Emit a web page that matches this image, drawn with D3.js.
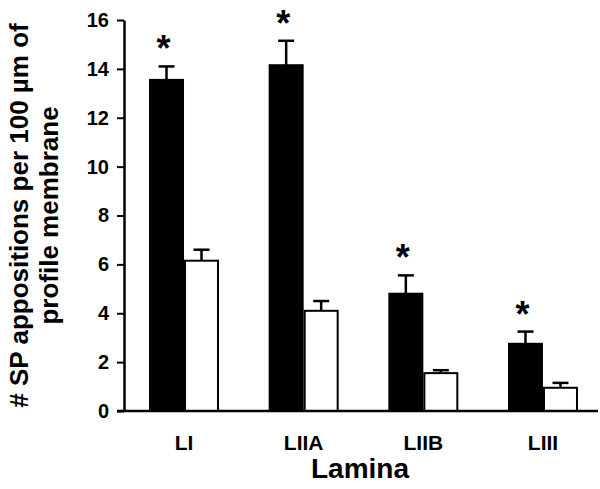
<!DOCTYPE html>
<html>
<head>
<meta charset="utf-8">
<script src="https://cdn.jsdelivr.net/npm/d3@7"></script>
<style>
  body { margin: 0; background: #fff; }
  text { font-family: "Liberation Sans", Arial, Helvetica, sans-serif; font-weight: bold; fill: #000; }
</style>
</head>
<body>
<div id="chart"></div>
<script>
const laminae = ["LI", "LIIA", "LIIB", "LIII"];
const groups = ["filled", "open"];
const filledMeans = [13.55, 14.15, 4.8, 2.75];
const filledErrors = [0.55, 1.0, 0.75, 0.5];
const openMeans = [6.15, 4.1, 1.55, 0.95];
const openErrors = [0.45, 0.4, 0.12, 0.2];
const significant = [true, true, true, true];
const yTicks = [0, 2, 4, 6, 8, 10, 12, 14, 16];

const width = 600, height = 489;
const margin = { top: 20, right: 0, bottom: 78, left: 124 };

const svg = d3.select("#chart")
    .append("svg")
    .attr("width", width)
    .attr("height", height);

const data = laminae.map((l, i) => ({
    lamina: l,
    values: [
        { key: "filled", mean: filledMeans[i], err: filledErrors[i] },
        { key: "open", mean: openMeans[i], err: openErrors[i] }
    ],
    star: significant[i]
}));

const x0 = d3.scaleBand()
    .domain(laminae)
    .range([margin.left, 603])
    .paddingInner(0.415)
    .paddingOuter(0.209);

const x1 = d3.scaleBand()
    .domain(groups)
    .range([0, x0.bandwidth()]);

const y = d3.scaleLinear()
    .domain([0, 16])
    .range([height - margin.bottom, margin.top]);

const fill = d3.scaleOrdinal().domain(groups).range(["#000", "#fff"]);

// bars
const g = svg.selectAll(".group")
    .data(data)
    .enter().append("g")
    .attr("transform", d => `translate(${x0(d.lamina)},0)`);

g.selectAll("rect")
    .data(d => d.values)
    .enter().append("rect")
    .attr("x", d => x1(d.key) + 1)
    .attr("y", d => y(d.mean))
    .attr("width", x1.bandwidth() - 2)
    .attr("height", d => y(0) - y(d.mean))
    .attr("fill", d => fill(d.key))
    .attr("stroke", "#000")
    .attr("stroke-width", 2);

// error bars (upper only)
const eb = g.selectAll(".err")
    .data(d => d.values)
    .enter().append("g");

eb.append("line")
    .attr("x1", d => x1(d.key) + x1.bandwidth() / 2)
    .attr("x2", d => x1(d.key) + x1.bandwidth() / 2)
    .attr("y1", d => y(d.mean))
    .attr("y2", d => y(d.mean + d.err))
    .attr("stroke", "#000")
    .attr("stroke-width", 2.5);

eb.append("line")
    .attr("x1", d => x1(d.key) + x1.bandwidth() / 2 - 8)
    .attr("x2", d => x1(d.key) + x1.bandwidth() / 2 + 8)
    .attr("y1", d => y(d.mean + d.err))
    .attr("y2", d => y(d.mean + d.err))
    .attr("stroke", "#000")
    .attr("stroke-width", 2.5);

// asterisks
g.filter(d => d.star)
    .append("text")
    .attr("x", x1("filled") + x1.bandwidth() / 2 - 3)
    .attr("y", d => y(d.values[0].mean + d.values[0].err) - 5)
    .attr("text-anchor", "middle")
    .style("font-size", "36px")
    .text("*");

// y axis
const yAxis = svg.append("g")
    .attr("transform", `translate(${margin.left},0)`)
    .call(d3.axisLeft(y).tickValues(yTicks).tickSize(7).tickSizeOuter(0).tickPadding(8));

yAxis.select(".domain").attr("stroke-width", 2.5);
yAxis.selectAll(".tick line").attr("stroke-width", 2);
yAxis.selectAll(".tick text")
    .style("font-size", "20px")
    .style("font-family", "'Liberation Sans', Arial, sans-serif")
    .style("font-weight", "bold");

// x axis line
svg.append("line")
    .attr("x1", margin.left - 7)
    .attr("x2", 598)
    .attr("y1", y(0))
    .attr("y2", y(0))
    .attr("stroke", "#000")
    .attr("stroke-width", 2.5);

// category labels
svg.selectAll(".cat")
    .data(laminae)
    .enter().append("text")
    .attr("x", d => x0(d) + x0.bandwidth() / 2)
    .attr("y", 450)
    .attr("text-anchor", "middle")
    .style("font-size", "21px")
    .text(d => d);

// x title
svg.append("text")
    .attr("x", 360)
    .attr("y", 478)
    .attr("text-anchor", "middle")
    .style("font-size", "28px")
    .text("Lamina");

// y title
const yt = svg.append("text")
    .attr("transform", `translate(28,${(y(0) + y(16)) / 2}) rotate(-90)`)
    .attr("text-anchor", "middle")
    .style("font-size", "26px");
yt.append("tspan").attr("x", 0).attr("dy", 0).text("# SP appositions per 100 µm of");
yt.append("tspan").attr("x", 0).attr("dy", 30).text("profile membrane");
</script>
</body>
</html>
